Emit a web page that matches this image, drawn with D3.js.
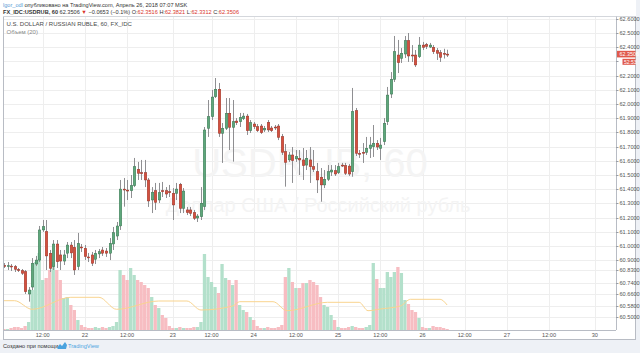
<!DOCTYPE html>
<html><head><meta charset="utf-8">
<script src="https://cdn.jsdelivr.net/npm/d3@7"></script>
<style>
body{margin:0;background:#eef1f6;}
svg{display:block;font-family:"Liberation Sans",Arial,sans-serif;}
</style></head>
<body>
<svg id="chart" width="640" height="353"></svg>
<script>
// ---------- DATA ----------
// hourly bar index (0 = 12:00 on the first visible day)
const barIndex = d3.range(-11, 116);
const opens = [
 60.863,60.858,60.859,60.854,60.834,60.826,60.819,60.662,60.711,60.873,
 60.901,61.113,61.101,60.949,60.854,61.014,60.937,60.894,60.949,61.007,
 60.991,60.854,60.993,60.984,60.923,60.937,60.906,60.944,60.972,60.965,
 60.949,61.014,61.070,61.141,61.401,61.394,61.389,61.425,61.540,61.516,
 61.516,61.465,61.324,61.389,61.324,61.389,61.389,61.382,61.371,61.371,
 61.434,61.265,61.254,61.254,61.235,61.197,61.206,61.277,61.829,61.911,
 62.051,62.104,61.794,61.829,61.935,61.836,61.880,61.875,61.896,61.915,
 61.812,61.859,61.840,61.845,61.817,61.871,61.831,61.838,61.845,61.770,
 61.664,61.606,61.641,61.613,61.618,61.606,61.570,61.606,61.558,61.523,
 61.484,61.430,61.470,61.521,61.530,61.516,61.570,61.566,61.563,61.523,
 61.953,61.653,61.660,61.660,61.688,61.699,61.723,61.688,61.735,61.875,
 62.070,62.174,62.345,62.322,62.352,62.446,62.345,62.345,62.333,62.415,
 62.419,62.401,62.399,62.375,62.361,62.357,62.3516
];
const closes = [
 60.856,60.861,60.852,60.836,60.831,60.808,60.678,60.690,60.878,60.901,
 61.113,61.136,60.930,60.843,61.014,60.889,60.894,60.937,61.007,60.951,
 60.831,61.019,60.989,60.925,60.919,60.878,60.949,60.960,60.949,60.949,
 61.019,61.094,61.141,61.401,61.398,61.391,61.425,61.558,61.512,61.512,
 61.465,61.317,61.378,61.308,61.375,61.386,61.366,61.379,61.289,61.401,
 61.265,61.387,61.235,61.230,61.195,61.211,61.301,61.817,61.911,62.049,
 62.104,61.794,61.829,61.935,61.836,61.875,61.868,61.904,61.915,61.812,
 61.868,61.840,61.812,61.798,61.829,61.817,61.812,61.835,61.765,61.660,
 61.589,61.641,61.601,61.629,61.606,61.566,61.618,61.558,61.540,61.465,
 61.430,61.470,61.523,61.535,61.507,61.558,61.567,61.512,61.507,61.946,
 61.653,61.649,61.657,61.688,61.711,61.723,61.697,61.711,61.864,62.063,
 62.174,62.368,62.291,62.357,62.446,62.338,62.342,62.275,62.415,62.399,
 62.405,62.415,62.368,62.357,62.329,62.352,62.3506
];
const highs = [
 60.880,60.887,60.873,60.866,60.845,60.838,60.831,60.711,60.915,60.930,
 61.141,61.183,61.183,60.972,61.042,61.042,60.972,60.972,61.028,61.028,
 61.042,61.092,61.014,61.007,60.951,60.958,60.972,60.979,60.993,60.986,
 61.056,61.134,61.169,61.465,61.479,61.465,61.500,61.620,61.592,61.606,
 61.606,61.479,61.415,61.444,61.444,61.451,61.415,61.430,61.408,61.444,
 61.444,61.408,61.275,61.275,61.254,61.225,61.415,61.838,62.028,62.099,
 62.183,62.148,61.866,62.042,62.042,62.028,61.901,61.937,61.937,61.930,
 61.887,61.873,61.859,61.859,61.845,61.887,61.845,61.852,61.859,61.789,
 61.718,61.662,61.697,61.676,61.676,61.690,61.676,61.697,61.676,61.585,
 61.549,61.535,61.570,61.570,61.570,61.585,61.585,61.585,61.577,62.113,
 61.972,61.676,61.725,61.768,61.768,61.852,61.746,61.761,61.901,62.120,
 62.225,62.479,62.451,62.394,62.479,62.500,62.415,62.380,62.472,62.437,
 62.430,62.430,62.415,62.394,62.380,62.389,62.3821
];
const lows = [
 60.845,60.831,60.824,60.817,60.817,60.796,60.662,60.608,60.690,60.859,
 60.887,61.099,60.831,60.817,60.831,60.845,60.831,60.866,60.915,60.915,
 60.796,60.831,60.958,60.901,60.887,60.859,60.873,60.915,60.930,60.923,
 60.901,60.972,61.042,61.113,61.277,61.324,61.338,61.415,61.465,61.465,
 61.415,61.275,61.232,61.254,61.303,61.345,61.338,61.345,61.183,61.324,
 61.232,61.232,61.218,61.211,61.183,61.169,61.183,61.254,61.768,61.887,
 62.042,61.768,61.585,61.817,61.676,61.594,61.852,61.838,61.887,61.782,
 61.796,61.824,61.803,61.789,61.803,61.803,61.803,61.817,61.746,61.641,
 61.418,61.592,61.444,61.592,61.500,61.465,61.535,61.444,61.521,61.373,
 61.312,61.408,61.458,61.493,61.493,61.507,61.556,61.500,61.493,61.488,
 61.634,61.620,61.585,61.641,61.620,61.627,61.676,61.606,61.711,61.852,
 62.042,62.155,62.218,62.289,62.324,62.296,62.296,62.261,62.324,62.380,
 62.387,62.394,62.352,62.310,62.296,62.320,62.3312
];
// volume (relative units)
const volumes = [
 1,1,2,3,3,2,4,8,40,68,
 77,50,52,60,68,60,50,32,33,25,
 20,10,5,3,2,2,3,2,3,2,
 3,4,8,60,55,50,62,55,50,48,
 45,42,33,25,22,15,12,4,2,2,
 3,2,2,2,3,3,8,76,53,48,
 43,37,66,52,50,45,50,25,20,18,
 13,10,4,2,2,3,2,2,3,5,
 53,62,48,42,42,47,47,50,48,45,
 33,25,23,15,10,3,2,2,3,4,
 3,2,2,3,5,67,51,42,42,58,
 53,58,63,57,30,26,20,18,12,3,
 2,2,4,3,3,2,1
];
// Volume MA(20): bar index, value
const maBars   = [-11, -8, -3, 8, 16, 21, 33, 41, 45, 54, 56, 65.5, 69.5, 81, 90, 92.5, 96, 101.7, 104.6, 113, 115];
const maValues = [29.3, 29.3, 20.7, 32.7, 32.7, 20.7, 29, 29, 20, 24, 28.3, 28.3, 19.3, 27.7, 27.7, 19.3, 21, 24, 30.7, 30.7, 25];

const priceTicks = [62.6,62.5,62.4,62.3,62.2,62.1,62.0,61.9,61.8,61.7,61.6,61.5,61.4,61.3,61.2,61.1,61.0,60.9,60.83,60.74,60.66,60.58,60.5];
const timeTickBars   = [0, 12, 24, 37, 48, 60, 72, 84, 96, 108, 120, 132, 144, 157];
const timeTickLabels = ["12:00","22","12:00","23","12:00","24","12:00","25","12:00","26","12:00","27","12:00","30"];

const lastPrice = 62.3506;
const countdown = "52:53";

// ---------- LAYOUT ----------
const svg = d3.select("#chart");
const pane = {left: 3, right: 616, top: 16.5, bottom: 330};
const x = d3.scaleLinear().domain([0, 144]).range([42.7, 549.1]);
const y = d3.scaleLinear().domain([60.5, 62.5]).range([317, 33]);
const yv = d3.scaleLinear().domain([0, 100]).range([pane.bottom, pane.bottom - 100]);

const bars = barIndex.map((k, i) => ({k, o: opens[i], h: highs[i], l: lows[i], c: closes[i], v: volumes[i]}));

// widget background
svg.append("rect").attr("x", 0).attr("y", 0).attr("width", 636).attr("height", 339.5).attr("fill", "#ffffff");

svg.append("clipPath").attr("id", "pc").append("rect")
  .attr("x", pane.left).attr("y", pane.top).attr("width", pane.right - pane.left).attr("height", pane.bottom - pane.top);

const g = svg.append("g").attr("clip-path", "url(#pc)");

// grid
g.selectAll("line.hg").data(priceTicks).join("line")
  .attr("x1", pane.left).attr("x2", pane.right)
  .attr("y1", d => Math.round(y(d)) + 0.5).attr("y2", d => Math.round(y(d)) + 0.5)
  .attr("stroke", "#eeeeee").attr("stroke-width", 1);
g.selectAll("line.vg").data(timeTickBars).join("line")
  .attr("y1", pane.top).attr("y2", pane.bottom)
  .attr("x1", d => Math.round(x(d)) + 0.5).attr("x2", d => Math.round(x(d)) + 0.5)
  .attr("stroke", "#eeeeee").attr("stroke-width", 1);

// watermark
g.append("text").attr("x", 310).attr("y", 177).attr("text-anchor", "middle")
  .attr("font-size", 40).attr("fill", "#f4f4f4").text("USDRUB, 60");
g.append("text").attr("x", 318).attr("y", 212).attr("text-anchor", "middle")
  .attr("font-size", 20).attr("fill", "#f4f4f4").text("Доллар США / Российский рубль");

// volume bars
g.selectAll("rect.vol").data(bars).join("rect")
  .attr("x", d => x(d.k) - 1.65).attr("width", 3.3)
  .attr("y", d => yv(d.v)).attr("height", d => yv(0) - yv(d.v))
  .attr("fill", d => d.c >= d.o ? "#b3e0cb" : "#f7bdc2");

// volume MA line
const maLine = d3.line().x(d => x(d[0])).y(d => yv(d[1])).curve(d3.curveMonotoneX);
g.append("path").datum(maBars.map((b, i) => [b, maValues[i]]))
  .attr("d", maLine).attr("fill", "none").attr("stroke", "#f9d48f").attr("stroke-width", 1);

// candles
const cg = g.append("g");
cg.selectAll("line.wick").data(bars).join("line")
  .attr("x1", d => Math.round(x(d.k)) + 0.5).attr("x2", d => Math.round(x(d.k)) + 0.5)
  .attr("y1", d => y(d.h)).attr("y2", d => y(d.l))
  .attr("stroke", "#8f8f92").attr("stroke-width", 1);
cg.selectAll("rect.body").data(bars).join("rect")
  .attr("x", d => Math.round(x(d.k)) - 0.8).attr("width", 2.6)
  .attr("y", d => y(Math.max(d.o, d.c)))
  .attr("height", d => Math.max(1, Math.abs(y(d.o) - y(d.c))))
  .attr("fill", d => d.c >= d.o ? "#5ea77b" : "#d4503f")
  .attr("stroke", d => d.c >= d.o ? "#2f6a48" : "#8c2b20")
  .attr("stroke-width", 0.4);

// pane borders
svg.append("line").attr("x1", pane.left + 0.5).attr("x2", pane.left + 0.5).attr("y1", pane.top).attr("y2", 339.5).attr("stroke", "#b8bcc4");
svg.append("line").attr("x1", pane.left).attr("x2", 636).attr("y1", pane.top).attr("y2", pane.top).attr("stroke", "#d4d7dc");
svg.append("line").attr("x1", pane.right + 0.5).attr("x2", pane.right + 0.5).attr("y1", pane.top).attr("y2", pane.bottom).attr("stroke", "#b8bcc4");
svg.append("line").attr("x1", pane.left).attr("x2", pane.right).attr("y1", pane.bottom + 0.5).attr("y2", pane.bottom + 0.5).attr("stroke", "#b8bcc4");
svg.append("line").attr("x1", 635.5).attr("x2", 635.5).attr("y1", pane.top).attr("y2", 339.5).attr("stroke", "#b8bcc4");
svg.append("line").attr("x1", pane.left).attr("x2", 636).attr("y1", 339.5).attr("y2", 339.5).attr("stroke", "#b8bcc4");

// price axis (labels hidden under the last-price / countdown boxes are left out)
const pa = svg.append("g");
pa.selectAll("line.pt").data(priceTicks).join("line")
  .attr("x1", pane.right).attr("x2", pane.right + 2.5)
  .attr("y1", d => Math.round(y(d)) + 0.5).attr("y2", d => Math.round(y(d)) + 0.5)
  .attr("stroke", "#9a9ea6");
pa.selectAll("text.pl").data(priceTicks.filter(d => y(d) > 15 && (y(d) < y(lastPrice) - 5 || y(d) > y(lastPrice) + 12))).join("text")
  .attr("x", 619.5).attr("y", d => y(d) + 2)
  .attr("font-size", 5.6).attr("fill", "#555").text(d => d.toFixed(4));

// last price labels
pa.append("rect").attr("x", 617).attr("y", y(lastPrice) - 3.4).attr("width", 18.5).attr("height", 6.6).attr("fill", "#e0594b");
pa.append("text").attr("x", 619.5).attr("y", y(lastPrice) + 1.8).attr("font-size", 5.4).attr("fill", "#fff").text(lastPrice.toFixed(4));
pa.append("rect").attr("x", 622.5).attr("y", y(lastPrice) + 4.6).attr("width", 13).attr("height", 6).attr("fill", "#e0594b");
pa.append("text").attr("x", 624).attr("y", y(lastPrice) + 9.9).attr("font-size", 5).attr("fill", "#fff").text(countdown);

// time axis
svg.selectAll("text.tl").data(timeTickBars).join("text")
  .attr("x", d => x(d)).attr("y", 336.5).attr("text-anchor", "middle")
  .attr("font-size", 5.6).attr("fill", "#555").text((d, i) => timeTickLabels[i]);

// legend in pane
svg.append("text").attr("x", 6.5).attr("y", 25.5).attr("font-size", 6).attr("fill", "#4a4a4a")
  .text("U.S. DOLLAR / RUSSIAN RUBLE, 60, FX_IDC");
svg.append("text").attr("x", 6.5).attr("y", 34).attr("font-size", 6).attr("fill", "#888")
  .text("Объем (20)");

// header
const h1 = svg.append("text").attr("x", 3).attr("y", 6.5).attr("font-size", 5.6).attr("fill", "#333");
h1.append("tspan").attr("fill", "#5b9bd5").text("lgor_odl");
h1.append("tspan").text(" опубликовано на TradingView.com, Апрель 26, 2018 07:07 MSK");
const h2 = svg.append("text").attr("x", 3).attr("y", 13.5).attr("font-size", 5.6).attr("fill", "#333");
h2.append("tspan").attr("font-weight", "bold").text("FX_IDC:USDRUB, 60");
h2.append("tspan").text(" 62.3506 ");
h2.append("tspan").attr("fill", "#d9352a").text("▼");
h2.append("tspan").text(" −0.0653 (−0.1%) O:");
h2.append("tspan").attr("fill", "#d9352a").text("62.3516");
h2.append("tspan").text(" H:");
h2.append("tspan").attr("fill", "#d9352a").text("62.3821");
h2.append("tspan").text(" L:");
h2.append("tspan").attr("fill", "#d9352a").text("62.3312");
h2.append("tspan").text(" C:");
h2.append("tspan").attr("fill", "#d9352a").text("62.3506");

// footer
svg.append("text").attr("x", 3).attr("y", 347.5).attr("font-size", 5.6).attr("fill", "#333").text("Создано при помощи");
const logo = svg.append("g").attr("transform", "translate(57,342)");
logo.append("path").attr("d", "M0,6 L3,2 L5,4 L8,0 L10,3 L9,7 L1,7 Z").attr("fill", "#4aa3df");
svg.append("text").attr("x", 68).attr("y", 347.5).attr("font-size", 5.6).attr("fill", "#4aa3df").text("TradingView");
</script>
</body></html>
